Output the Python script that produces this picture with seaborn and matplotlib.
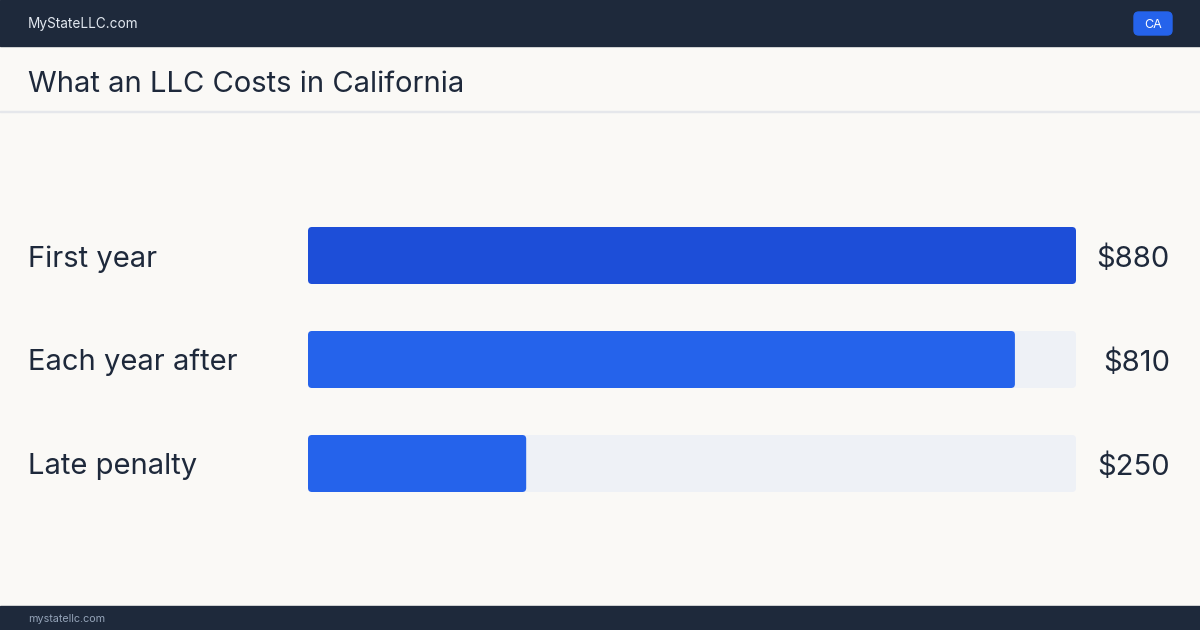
import pandas as pd
import matplotlib.pyplot as plt
import seaborn as sns
from matplotlib.patches import FancyBboxPatch, Rectangle

# data
labels = ["First year", "Each year after", "Late penalty"]
costs = [880, 810, 250]
value_text = ["$880", "$810", "$250"]
title = "What an LLC Costs in California"
site = "MyStateLLC.com"
footer = "mystatellc.com"
badge = "CA"

NAVY = "#1e293b"
BG = "#faf9f6"
BLUE = "#2563eb"
BLUE_DARK = "#1d4ed8"
TRACK = "#eef1f6"
INK = "#1e293b"

sns.set_theme(style="white")
plt.rcParams['font.family'] = ['Inter', 'DejaVu Sans']

W, H = 1200, 630
fig = plt.figure(figsize=(12, 6.3), dpi=100, facecolor=BG)

def fx(px): return px / W
def fy(py): return 1 - py / H

# header / footer bands
fig.patches.append(Rectangle((0, fy(46)), 1, 46 / H, transform=fig.transFigure, color=NAVY, zorder=0))
fig.patches.append(Rectangle((0, 0), 1, 24 / H, transform=fig.transFigure, color=NAVY, zorder=0))
fig.patches.append(Rectangle((0, fy(112)), 1, 1 / H, transform=fig.transFigure, color="#e5e7eb", zorder=0))
fig.patches.append(FancyBboxPatch((fx(1134), fy(35)), 38 / W, 23 / H, transform=fig.transFigure,
                                  boxstyle="round,pad=0,rounding_size=0.004", mutation_aspect=W / H,
                                  color=BLUE, zorder=1))
fig.text(fx(28), fy(27.7), site, color="#e2e8f0", fontsize=9.8, va="baseline", ha="left")
fig.text(fx(1153), fy(27.7), badge, color="white", fontsize=9, va="baseline", ha="center")
fig.text(fx(28), fy(621.5), footer, color="#94a3b8", fontsize=7.8, va="baseline", ha="left")
fig.text(fx(28), fy(92), title, color=INK, fontsize=21, va="baseline", ha="left")

# bar axes: track from x=308 to 1076, rows centred at 255.5, 359.5, 463.5
top_px, bot_px = 203.5, 515.5
ax = fig.add_axes([fx(308), fy(bot_px), fx(1076) - fx(308), (bot_px - top_px) / H])
ax.set_facecolor("none")

df = pd.DataFrame({"label": labels, "cost": costs})
full = df.assign(cost=max(costs))
bw = 57 / 104
sns.barplot(data=full, x="cost", y="label", color=TRACK, width=bw, ax=ax, saturation=1)
sns.barplot(data=df, x="cost", y="label", hue="label", palette=[BLUE_DARK, BLUE, BLUE],
            width=bw, ax=ax, saturation=1, legend=False)
ax.set_xlim(0, max(costs))
ax.set_ylim(len(labels) - 0.5, -0.5)

# round the corners
xpp = max(costs) / 768
ypp = 3 / (bot_px - top_px)
for p in list(ax.patches):
    x, y, w, h = p.get_x(), p.get_y(), p.get_width(), p.get_height()
    rb = FancyBboxPatch((x, y), w, h, boxstyle=f"round,pad=0,rounding_size={4 * xpp}",
                        mutation_aspect=ypp / xpp, facecolor=p.get_facecolor(), edgecolor="none",
                        zorder=p.get_zorder())
    p.remove()
    ax.add_patch(rb)

ax.set_xlabel(""); ax.set_ylabel("")
ax.set_xticks([]); ax.set_yticks([])
sns.despine(ax=ax, left=True, bottom=True)

for i, (lab, vt) in enumerate(zip(labels, value_text)):
    base = 255.5 + 104 * i + 11
    fig.text(fx(28), fy(base), lab, color=INK, fontsize=21, va="baseline", ha="left")
    fig.text(fx(1170), fy(base), vt, color=INK, fontsize=21, va="baseline", ha="right")

fig.savefig("out.png", dpi=100, facecolor=BG)
